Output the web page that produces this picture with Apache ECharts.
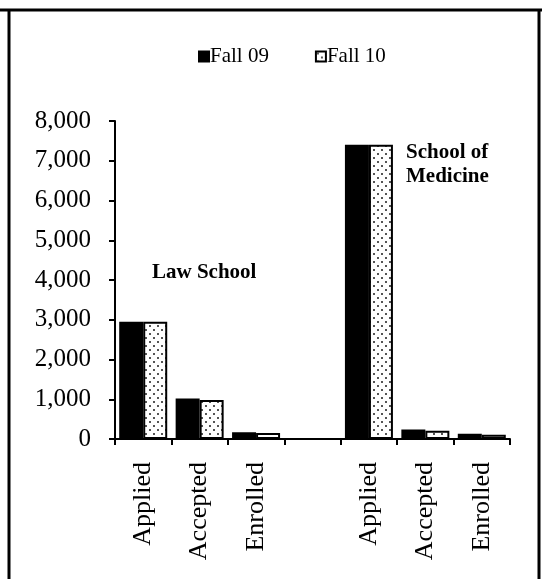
<!DOCTYPE html>
<html>
<head>
    <meta charset="utf-8">
    <title>Applications by School</title>
    <script src="https://cdn.jsdelivr.net/npm/echarts@6/dist/echarts.min.js"></script>
    <style>
        html, body { margin: 0; padding: 0; background: #fff; }
        #main { width: 542px; height: 579px; }
    </style>
</head>
<body>
    <div id="main"></div>
    <script>
        // data
        var categories = ['Applied', 'Accepted', 'Enrolled', '', 'Applied', 'Accepted', 'Enrolled'];
        var fall09 = [2950, 1020, 170, null, 7400, 240, 130];
        var fall10 = [2950, 980, 150, null, 7400, 210, 110];
        var seriesNames = ['Fall 09', 'Fall 10'];
        var yTicks = [0, 1000, 2000, 3000, 4000, 5000, 6000, 7000, 8000];

        var serif = '"Liberation Serif", "Times New Roman", serif';

        // dotted fill for Fall 10
        var dots = document.createElement('canvas');
        dots.width = 8;
        dots.height = 8;
        var ctx = dots.getContext('2d');
        ctx.fillStyle = '#fff';
        ctx.fillRect(0, 0, 8, 8);
        ctx.fillStyle = '#555';
        ctx.fillRect(1, 1, 2, 2);
        ctx.fillRect(5, 5, 2, 2);

        var chartDom = document.getElementById('main');
        var myChart = echarts.init(chartDom, null, { renderer: 'canvas' });

        var option = {
            animation: false,
            backgroundColor: '#fff',
            legend: {
                left: 193,
                top: 41,
                itemWidth: 10,
                itemHeight: 10,
                itemGap: 46,
                icon: 'rect',
                textStyle: { fontFamily: serif, fontSize: 21, color: '#000', padding: [0, 0, 0, -4] },
                data: seriesNames
            },
            grid: { left: 115, right: 32, top: 121, bottom: 140 },
            xAxis: {
                type: 'category',
                data: categories,
                axisLine: { lineStyle: { color: '#000', width: 2 } },
                axisTick: { show: true, length: 6, lineStyle: { color: '#000', width: 2 } },
                axisLabel: {
                    interval: 0,
                    rotate: 90,
                    margin: 23,
                    fontFamily: serif,
                    fontSize: 26,
                    color: '#000'
                }
            },
            yAxis: {
                type: 'value',
                min: yTicks[0],
                max: yTicks[yTicks.length - 1],
                interval: 1000,
                splitLine: { show: false },
                axisLine: { show: true, lineStyle: { color: '#000', width: 2 } },
                axisTick: { show: true, length: 6, lineStyle: { color: '#000', width: 2 } },
                axisLabel: {
                    margin: 24,
                    fontFamily: serif,
                    fontSize: 25,
                    color: '#000',
                    formatter: function (v) { return v.toLocaleString('en-US'); }
                }
            },
            series: [
                {
                    name: seriesNames[0],
                    type: 'bar',
                    data: fall09,
                    barWidth: 24,
                    barGap: '0%',
                    itemStyle: { color: '#000', borderColor: '#000', borderWidth: 2 }
                },
                {
                    name: seriesNames[1],
                    type: 'bar',
                    data: fall10,
                    barWidth: 24,
                    barGap: '0%',
                    itemStyle: {
                        color: { image: dots, repeat: 'repeat' },
                        borderColor: '#000',
                        borderWidth: 2
                    }
                }
            ],
            graphic: [
                {
                    type: 'text',
                    left: 152,
                    top: 262,
                    style: { text: 'Law School', font: 'bold 21px ' + serif, fill: '#000' }
                },
                {
                    type: 'text',
                    left: 406,
                    top: 141,
                    style: { text: 'School of\nMedicine', font: 'bold 21px ' + serif, lineHeight: 24, fill: '#000' }
                },
                // outer frame
                {
                    type: 'line',
                    shape: { x1: 0, y1: 10, x2: 542, y2: 10 },
                    style: { stroke: '#000', lineWidth: 3 }
                },
                {
                    type: 'line',
                    shape: { x1: 9, y1: 10, x2: 9, y2: 579 },
                    style: { stroke: '#000', lineWidth: 3 }
                },
                {
                    type: 'line',
                    shape: { x1: 539, y1: 10, x2: 539, y2: 579 },
                    style: { stroke: '#000', lineWidth: 3 }
                }
            ]
        };

        myChart.setOption(option);
    </script>
</body>
</html>
